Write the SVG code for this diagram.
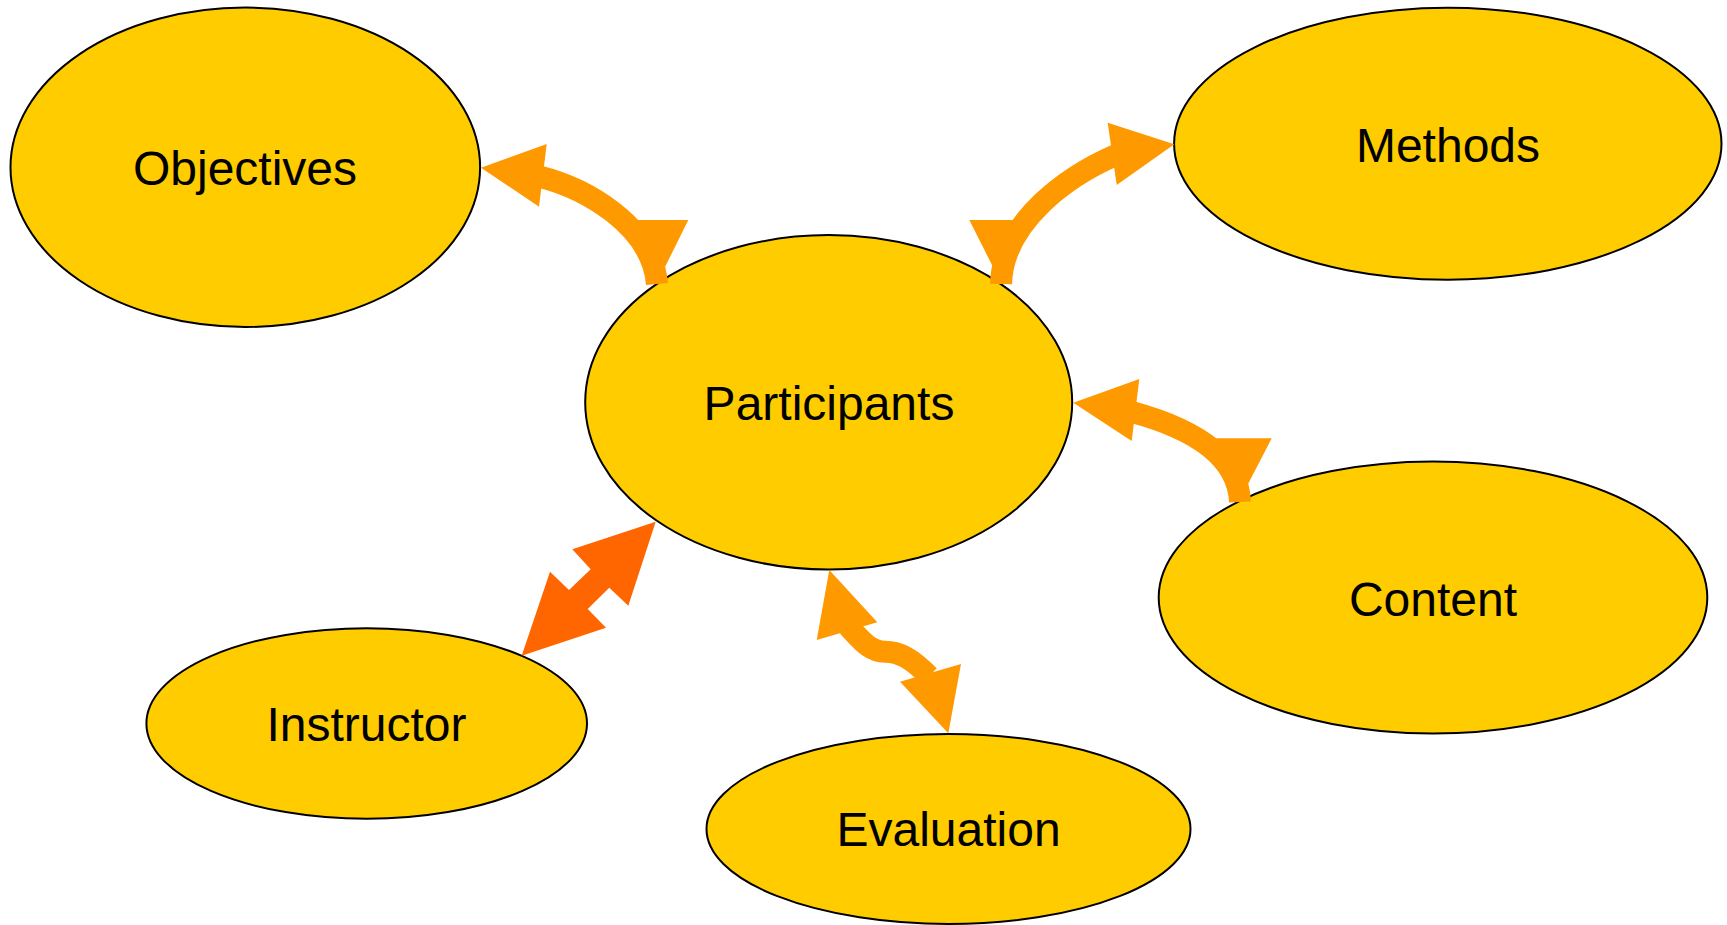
<svg xmlns="http://www.w3.org/2000/svg" width="1727" height="925" viewBox="0 0 1727 925">
<style>
.node ellipse{fill:#FFCC00;stroke:#000;stroke-width:2}
.node text{font-family:"Liberation Sans",Arial,sans-serif;font-size:48px;fill:#000;text-anchor:middle}
.shaft{fill:none;stroke:#FF9900;stroke-width:22;stroke-linecap:butt}
.head{fill:#FF9900;stroke:none}
.dark{fill:#FF6600;stroke:none}
</style>
<rect width="1727" height="925" fill="#fff"/>
<g id="objectives" class="node"><ellipse cx="245.3" cy="167.3" rx="234.8" ry="159.7"/><text x="245" y="184.5">Objectives</text></g>
<g id="participants" class="node"><ellipse cx="828.7" cy="402.3" rx="243.5" ry="167.2"/><text x="829" y="419.5">Participants</text></g>
<g id="methods" class="node"><ellipse cx="1447.8" cy="143.7" rx="273.7" ry="136"/><text x="1448" y="161.5">Methods</text></g>
<g id="content" class="node"><ellipse cx="1433" cy="597.5" rx="274.3" ry="136"/><text x="1433" y="615.5">Content</text></g>
<g id="instructor" class="node"><ellipse cx="366.7" cy="723.5" rx="220.3" ry="95.3"/><text x="366.5" y="740.8">Instructor</text></g>
<g id="evaluation" class="node"><ellipse cx="948.5" cy="829" rx="242" ry="95"/><text x="948.5" y="846">Evaluation</text></g>
<g id="connectors">
<path class="shaft" d="M539,176.5 C585,188 652,225 657,284"/>
<polygon class="head" points="481,167.7 546.7,144 539,206.7"/>
<polygon class="head" points="636.7,220 688.3,220 665,267"/>
<path class="shaft" d="M1116,155 C1070,175 1003,220 1001,284"/>
<polygon class="head" points="1174.3,144.3 1107.7,122.7 1116.7,185"/>
<polygon class="head" points="969.3,220 1021,220 993,267"/>
<path class="shaft" d="M1132,412 C1180,425 1238,450 1240,502"/>
<polygon class="head" points="1073.3,402.7 1139.3,379 1131.7,441"/>
<polygon class="head" points="1211.7,438.3 1271.7,438.3 1246,488"/>
<polygon class="dark" points="655.7,521.7 628.3,605.7 609.3,587.7 587.7,609 606,627.7 521.7,655.7 550,571.7 569,590 590.7,569.3 572.3,549.3"/>
<path class="shaft" d="M848,626 C862,641 870,651.7 885,651.7 C900,651.7 912,659 929,676"/>
<polygon class="head" points="829.3,570 816.7,640 877.3,622.3"/>
<polygon class="head" points="948.3,733.3 900,681.7 961,664"/>
</g>
</svg>
